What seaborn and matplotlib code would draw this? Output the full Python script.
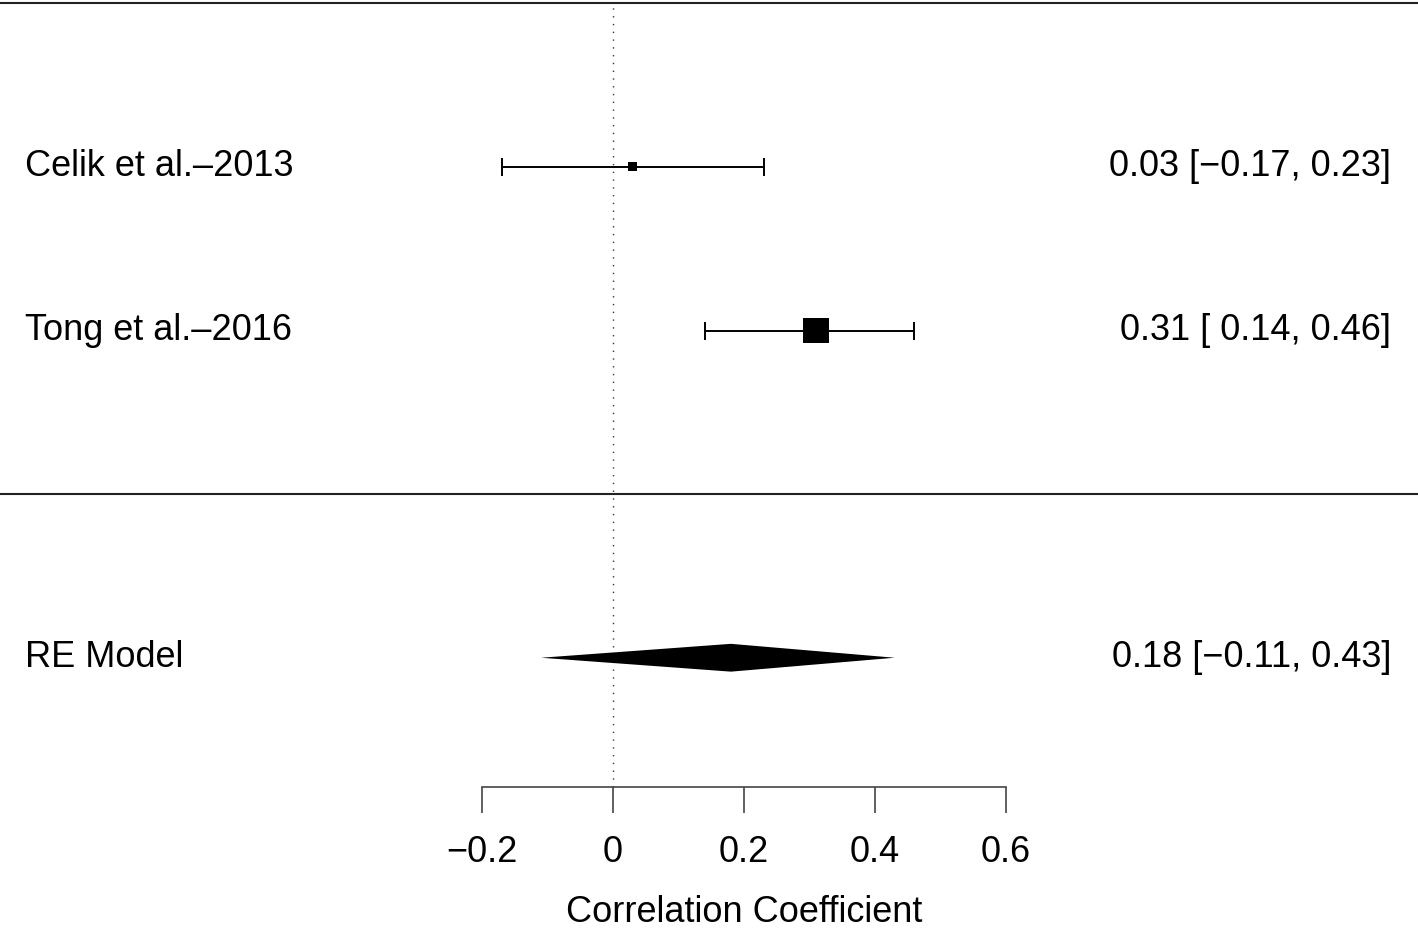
import matplotlib
matplotlib.use("Agg")
import matplotlib.pyplot as plt
import matplotlib.transforms as mtransforms
import numpy as np
import pandas as pd
import seaborn as sns

# forest plot data
studies = ["Celik et al.\u20132013", "Tong et al.\u20132016"]
estimates = [0.03, 0.31]
ci_lower = [-0.17, 0.14]
ci_upper = [0.23, 0.46]
weights = [0.5, 1.5]  # relative point size (metafor psize)

summary_label = "RE Model"
summary_est = 0.18
summary_lower = -0.11
summary_upper = 0.43

x_ticks = [-0.2, 0, 0.2, 0.4, 0.6]
x_tick_labels = ["\u22120.2", "0", "0.2", "0.4", "0.6"]
x_label = "Correlation Coefficient"


def fmt_ci(est, lo, hi):
    s = f"{est:.2f} [{lo:5.2f}, {hi:.2f}]"
    return s.replace("-", "\u2212")


sns.set_theme(style="white")
plt.rcParams["font.family"] = ["Liberation Sans", "DejaVu Sans"]
plt.rcParams["text.color"] = "black"
plt.rcParams["xtick.color"] = "black"

fig = plt.figure(figsize=(14.18, 9.31), dpi=100)
ax = fig.add_axes([0, (931 - 787) / 931, 1, 787 / 931])

rows = list(range(len(studies), 0, -1))
df = pd.DataFrame({"study": studies, "est": estimates, "lo": ci_lower, "hi": ci_upper,
                   "w": weights, "row": rows})

ax.set_xlim(-0.936, 1.229)
ax.set_ylim(-1.79, 3.02)

# reference line at zero
ax.axvline(0, ymin=0, ymax=(3 + 1.79) / 4.81, color="#333333", lw=1.0,
           linestyle=(0, (1, 4.6)), zorder=1)

# separators
ax.axhline(3, color="#222222", lw=1.5, clip_on=False)
ax.axhline(0, color="#222222", lw=1.5)

# CIs
ax.errorbar(df["est"], df["row"], xerr=[df["est"] - df["lo"], df["hi"] - df["est"]],
            fmt="none", ecolor="black", elinewidth=1.4, capsize=6.5, capthick=1.4, zorder=2)

# study squares
sns.scatterplot(data=df, x="est", y="row", size="w", sizes=(42, 350), marker="s",
                color="black", edgecolor="black", linewidth=0, legend=False, ax=ax, zorder=3)

# summary diamond
h = 0.085
ax.fill([summary_lower, summary_est, summary_upper, summary_est],
        [-1, -1 + h, -1, -1 - h], color="black", lw=0, zorder=3)

# texts
trans = mtransforms.blended_transform_factory(ax.transAxes, ax.transData)
fs = 26
for _, r in df.iterrows():
    ax.text(25 / 1418, r["row"], r["study"], transform=trans, ha="left", va="center", fontsize=fs)
    ax.text(1391 / 1418, r["row"], fmt_ci(r["est"], r["lo"], r["hi"]), transform=trans,
            ha="right", va="center", fontsize=fs)
ax.text(25 / 1418, -1, summary_label, transform=trans, ha="left", va="center", fontsize=fs)
ax.text(1391 / 1418, -1, fmt_ci(summary_est, summary_lower, summary_upper), transform=trans,
        ha="right", va="center", fontsize=fs)

# axis
for side in ["left", "right", "top"]:
    ax.spines[side].set_visible(False)
ax.spines["bottom"].set_bounds(-0.2, 0.6)
ax.spines["bottom"].set_color("#444444")
ax.spines["bottom"].set_linewidth(1.2)
ax.set_xticks(x_ticks)
ax.set_xticklabels(x_tick_labels)
ax.set_yticks([])
ax.tick_params(axis="x", direction="out", length=18.5, width=1.2, color="#444444",
               labelcolor="black", labelsize=fs, pad=16, bottom=True)
ax.set_xlabel("")
ax.set_ylabel("")
xl_trans = mtransforms.blended_transform_factory(ax.transData, fig.transFigure)
ax.text(0.2, (931 - 913) / 931, x_label, transform=xl_trans, ha="center", va="center",
        fontsize=fs)

fig.savefig("out.png", dpi=100, facecolor="white")
